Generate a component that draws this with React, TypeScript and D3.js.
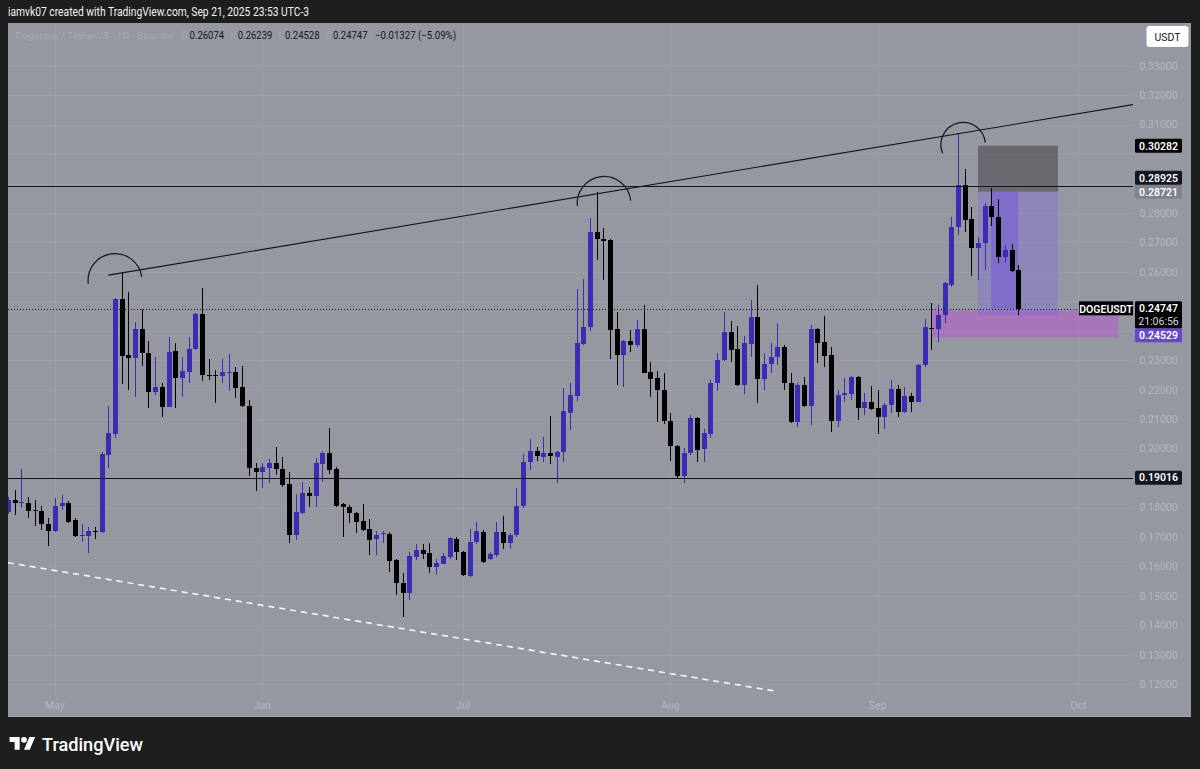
import React from 'react';
import * as d3 from 'd3';

// ---------- data ----------
const START = Date.UTC(2025, 3, 24); // first visible daily candle
const DAY = 86400000;

const opens = [
  0.1786, 0.1826, 0.1814, 0.1816, 0.1792, 0.1789, 0.1744, 0.1721, 0.1805, 0.1814,
  0.1758, 0.1703, 0.1704, 0.1721, 0.1718, 0.1979, 0.2050, 0.2507, 0.2317, 0.2307,
  0.2405, 0.2326, 0.2191, 0.2210, 0.2142, 0.2333, 0.2240, 0.2260, 0.2337, 0.2456,
  0.2251, 0.2251, 0.2247, 0.2256, 0.2260, 0.2208, 0.2146, 0.1933, 0.1922, 0.1933,
  0.1950, 0.1930, 0.1880, 0.1707, 0.1783, 0.1848, 0.1839, 0.1947, 0.1984, 0.1930,
  0.1812, 0.1803, 0.1782, 0.1755, 0.1726, 0.1692, 0.1710, 0.1709, 0.1622, 0.1545,
  0.1511, 0.1633, 0.1656, 0.1645, 0.1597, 0.1609, 0.1633, 0.1692, 0.1650, 0.1568,
  0.1682, 0.1718, 0.1626, 0.1639, 0.1718, 0.1679, 0.1707, 0.1805, 0.1954, 0.1991,
  0.1971, 0.1984, 0.1973, 0.1990, 0.2122, 0.2179, 0.2355, 0.2412, 0.2736, 0.2713,
  0.2708, 0.2405, 0.2318, 0.2365, 0.2352, 0.2406, 0.2259, 0.2239, 0.2199, 0.2095,
  0.2009, 0.1907, 0.1984, 0.2103, 0.1998, 0.2050, 0.2222, 0.2301, 0.2397, 0.2337,
  0.2216, 0.2355, 0.2446, 0.2235, 0.2287, 0.2310, 0.2346, 0.2224, 0.2091, 0.2216,
  0.2145, 0.2405, 0.2363, 0.2318, 0.2095, 0.2182, 0.2185, 0.2242, 0.2137, 0.2159,
  0.2137, 0.2106, 0.2148, 0.2202, 0.2125, 0.2179, 0.2159, 0.2284, 0.2411, 0.2405,
  0.2454, 0.2556, 0.2751, 0.2895, 0.2779, 0.2680, 0.2697, 0.2824, 0.2785, 0.2652,
  0.2674, 0.26074,
];
const highs = [
  0.1836, 0.1860, 0.1930, 0.1836, 0.1826, 0.1805, 0.1765, 0.1832, 0.1843, 0.1822,
  0.1764, 0.1744, 0.1733, 0.1734, 0.1989, 0.2145, 0.2510, 0.2598, 0.2533, 0.2430,
  0.2473, 0.2366, 0.2310, 0.2222, 0.2378, 0.2358, 0.2310, 0.2380, 0.2460, 0.2544,
  0.2303, 0.2267, 0.2303, 0.2321, 0.2278, 0.2281, 0.2165, 0.1950, 0.1950, 0.1964,
  0.2007, 0.1971, 0.1922, 0.1845, 0.1888, 0.1869, 0.1967, 0.1993, 0.2069, 0.1936,
  0.1815, 0.1808, 0.1786, 0.1812, 0.1760, 0.1721, 0.1721, 0.1718, 0.1625, 0.1577,
  0.1648, 0.1676, 0.1676, 0.1679, 0.1624, 0.1647, 0.1701, 0.1699, 0.1653, 0.1726,
  0.1752, 0.1724, 0.1650, 0.1752, 0.1771, 0.1713, 0.1865, 0.1981, 0.2032, 0.2006,
  0.2041, 0.2111, 0.1993, 0.2205, 0.2222, 0.2541, 0.2576, 0.2782, 0.2872, 0.2748,
  0.2710, 0.2465, 0.2368, 0.2403, 0.2437, 0.2488, 0.2295, 0.2265, 0.2256, 0.2122,
  0.2012, 0.2001, 0.2114, 0.2106, 0.2066, 0.2233, 0.2326, 0.2465, 0.2434, 0.2416,
  0.2382, 0.2505, 0.2556, 0.2326, 0.2359, 0.2426, 0.2352, 0.2256, 0.2224, 0.2244,
  0.2420, 0.2408, 0.2450, 0.2346, 0.2199, 0.2239, 0.2246, 0.2248, 0.2188, 0.2213,
  0.2199, 0.2154, 0.2233, 0.2216, 0.2210, 0.2188, 0.2287, 0.2439, 0.2494, 0.2488,
  0.2567, 0.2785, 0.3070, 0.2948, 0.2819, 0.2719, 0.2835, 0.2884, 0.2846, 0.2691,
  0.2695, 0.26239,
];
const lows = [
  0.1778, 0.1775, 0.1798, 0.1765, 0.1737, 0.1724, 0.1670, 0.1718, 0.1792, 0.1748,
  0.1699, 0.1684, 0.1645, 0.1693, 0.1714, 0.1933, 0.2035, 0.2219, 0.2199, 0.2174,
  0.2281, 0.2137, 0.2182, 0.2108, 0.2140, 0.2139, 0.2176, 0.2224, 0.2335, 0.2231,
  0.2233, 0.2156, 0.2224, 0.2197, 0.2171, 0.2140, 0.1907, 0.1856, 0.1865, 0.1884,
  0.1911, 0.1871, 0.1679, 0.1690, 0.1778, 0.1803, 0.1801, 0.1888, 0.1914, 0.1801,
  0.1699, 0.1747, 0.1715, 0.1721, 0.1639, 0.1639, 0.1679, 0.1582, 0.1503, 0.1428,
  0.1486, 0.1622, 0.1627, 0.1579, 0.1571, 0.1607, 0.1627, 0.1622, 0.1568, 0.1565,
  0.1676, 0.1611, 0.1622, 0.1633, 0.1659, 0.1659, 0.1701, 0.1798, 0.1929, 0.1957,
  0.1956, 0.1948, 0.1884, 0.1956, 0.2063, 0.2163, 0.2352, 0.2400, 0.2640, 0.2573,
  0.2303, 0.2216, 0.2208, 0.2329, 0.2344, 0.2256, 0.2174, 0.2091, 0.2084, 0.1959,
  0.1896, 0.1884, 0.1979, 0.1956, 0.1956, 0.2035, 0.2197, 0.2298, 0.2295, 0.2213,
  0.2185, 0.2312, 0.2156, 0.2199, 0.2256, 0.2284, 0.2199, 0.2088, 0.2074, 0.2140,
  0.2080, 0.2290, 0.2276, 0.2057, 0.2072, 0.2159, 0.2165, 0.2097, 0.2114, 0.2131,
  0.2050, 0.2066, 0.2122, 0.2108, 0.2120, 0.2125, 0.2158, 0.2278, 0.2335, 0.2363,
  0.2427, 0.2548, 0.2725, 0.2736, 0.2586, 0.2573, 0.2606, 0.2756, 0.2631, 0.2631,
  0.2601, 0.24528,
];
const closes = [
  0.1826, 0.1815, 0.1818, 0.1789, 0.1789, 0.1744, 0.1721, 0.1805, 0.1814, 0.1752,
  0.1704, 0.1706, 0.1720, 0.1718, 0.1982, 0.2054, 0.2507, 0.2314, 0.2307, 0.2405,
  0.2324, 0.2191, 0.2210, 0.2142, 0.2328, 0.2240, 0.2263, 0.2339, 0.2456, 0.2249,
  0.2247, 0.2248, 0.2260, 0.2260, 0.2206, 0.2146, 0.1933, 0.1922, 0.1937, 0.1950,
  0.1930, 0.1877, 0.1707, 0.1784, 0.1848, 0.1839, 0.1950, 0.1986, 0.1927, 0.1805,
  0.1801, 0.1782, 0.1752, 0.1724, 0.1690, 0.1707, 0.1713, 0.1619, 0.1543, 0.1511,
  0.1636, 0.1656, 0.1642, 0.1597, 0.1611, 0.1636, 0.1696, 0.1650, 0.1571, 0.1684,
  0.1721, 0.1616, 0.1642, 0.1718, 0.1679, 0.1707, 0.1805, 0.1954, 0.1991, 0.1974,
  0.1984, 0.1975, 0.1990, 0.2129, 0.2182, 0.2360, 0.2414, 0.2736, 0.2711, 0.2706,
  0.2403, 0.2318, 0.2365, 0.2352, 0.2406, 0.2258, 0.2236, 0.2199, 0.2095, 0.2009,
  0.1907, 0.1986, 0.2103, 0.1995, 0.2052, 0.2224, 0.2301, 0.2397, 0.2335, 0.2216,
  0.2358, 0.2448, 0.2235, 0.2287, 0.2310, 0.2345, 0.2224, 0.2091, 0.2216, 0.2145,
  0.2405, 0.2360, 0.2314, 0.2095, 0.2182, 0.2188, 0.2244, 0.2137, 0.2159, 0.2133,
  0.2106, 0.2148, 0.2202, 0.2125, 0.2179, 0.2159, 0.2284, 0.2414, 0.2405, 0.2454,
  0.2561, 0.2753, 0.2895, 0.2776, 0.2680, 0.2697, 0.2824, 0.2785, 0.2652, 0.2674,
  0.2604, 0.24747,
];

const priceTicks = [0.12, 0.13, 0.14, 0.15, 0.16, 0.17, 0.18, 0.19, 0.2, 0.21, 0.22, 0.23, 0.24, 0.25, 0.26, 0.27, 0.28, 0.29, 0.3, 0.31, 0.32, 0.33];
const monthStarts = ['2025-05-01', '2025-06-01', '2025-07-01', '2025-08-01', '2025-09-01', '2025-10-01'];
const monthLabels = ['May', 'Jun', 'Jul', 'Aug', 'Sep', 'Oct'];

// drawings: [day offset from START, price]
const trendLine = [[15, 0.2589], [168.16, 0.3168]];
const horizontalLevels = [0.28925, 0.19016];
const dashedLine = [[0, 0.1613], [114.65, 0.1177]];
const arcs = [
  [[12.0, 0.2559], [16.14, 0.2662], [19.98, 0.2583]],
  [[85.1, 0.2824], [88.5, 0.2923], [93.07, 0.2842]],
  [[139.7, 0.3003], [142.4, 0.3107], [146.07, 0.3039]],
];
const shortPos = { start: 145, end: 156.95, filledFrom: 147, filledTo: 151, entry: 0.28721, stop: 0.30282, target: 0.24529 };
const zone = { start: 138.06, end: 165.96, top: 0.2468, bottom: 0.2377 };
const lastPrice = 0.24747;
const countdown = '21:06:56';
const legendValues = { o: '0.26074', h: '0.26239', l: '0.24528', c: '0.24747', chg: '\u22120.01327 (\u22125.09%)' };

// ---------- layout ----------
const FONT = "Roboto, 'Noto Sans', 'DejaVu Sans', sans-serif";
const PANE = { left: 8, top: 23, right: 1133, bottom: 694 };
const FRAME = { left: 8, top: 23, right: 1191, bottom: 717 };
const BG = '#9598a1';
const BULL = '#3b2cb4';
const BEAR = '#000000';

function circle3(a: number[], b: number[], c: number[]) {
  const [x1, y1] = a, [x2, y2] = b, [x3, y3] = c;
  const d = 2 * (x1 * (y2 - y3) + x2 * (y3 - y1) + x3 * (y1 - y2));
  const ux = ((x1 * x1 + y1 * y1) * (y2 - y3) + (x2 * x2 + y2 * y2) * (y3 - y1) + (x3 * x3 + y3 * y3) * (y1 - y2)) / d;
  const uy = ((x1 * x1 + y1 * y1) * (x3 - x2) + (x2 * x2 + y2 * y2) * (x1 - x3) + (x3 * x3 + y3 * y3) * (x2 - x1)) / d;
  return { cx: ux, cy: uy, r: Math.hypot(x1 - ux, y1 - uy) };
}

export default function App() {
  const x = d3.scaleUtc()
    .domain([new Date(START), new Date(START + 151 * DAY)])
    .range([8, 8 + 151 * 6.69]);
  const y = d3.scaleLinear().domain([0.12, 0.33]).range([684.3, 65.7]);
  const X = (d: number) => x(new Date(START + d * DAY));

  const candles = opens.map((o, i) => ({ i, o, h: highs[i], l: lows[i], c: closes[i] }));

  const arcPaths = arcs.map((pts) => {
    const p = pts.map(([d, v]) => [X(d), y(v)]);
    const { cx, cy, r } = circle3(p[0], p[1], p[2]);
    const side = (q: number[]) => (p[2][0] - p[0][0]) * (q[1] - p[0][1]) - (p[2][1] - p[0][1]) * (q[0] - p[0][0]);
    const large = Math.sign(side([cx, cy])) === Math.sign(side(p[1])) ? 1 : 0;
    const sweep = side(p[1]) < 0 ? 1 : 0;
    return `M${p[0][0]},${p[0][1]} A${r},${r} 0 ${large} ${sweep} ${p[2][0]},${p[2][1]}`;
  });

  // price-axis labels with simple collision handling
  const LH = 14;
  const placed: { top: number; bottom: number }[] = [];
  const curTop = y(lastPrice) - 7.5;
  placed.push({ top: curTop, bottom: curTop + 27 });
  const axisLabels = [
    { v: shortPos.target, bg: '#6746d0', fg: '#ffffff' },
    { v: shortPos.entry, bg: '#80838c', fg: '#ffffff' },
    { v: shortPos.stop, bg: '#000000', fg: '#ffffff' },
    { v: horizontalLevels[0], bg: '#131722', fg: '#ffffff' },
    { v: horizontalLevels[1], bg: '#131722', fg: '#ffffff' },
  ].map((lb) => {
    const cy = y(lb.v);
    let top = cy - LH / 2;
    for (const p of placed) {
      if (top < p.bottom && top + LH > p.top) {
        if (cy < (p.top + p.bottom) / 2) top = p.top - LH;
        else top = p.bottom;
      }
    }
    placed.push({ top, bottom: top + LH });
    return { ...lb, top };
  });

  // tick labels that would sit under a price label are hidden, as TradingView does
  const visibleTicks = priceTicks.filter((t) => {
    const ty = y(t);
    return !placed.some((p) => ty - 4 < p.bottom && ty + 4 > p.top);
  });

  const LBL_X = 1135, LBL_W = 47, LBL_CX = 1158.5;
  const snap = (v: number) => Math.round(v) + 0.5;

  const legendParts = [
    { k: 'O', kx: 181.6, kw: 5.6, v: legendValues.o, vx: 189.6 },
    { k: 'H', kx: 230.2, kw: 5.4, v: legendValues.h, vx: 237.8 },
    { k: 'L', kx: 278.8, kw: 4.2, v: legendValues.l, vx: 285 },
    { k: 'C', kx: 325.8, kw: 5.2, v: legendValues.c, vx: 333 },
  ];

  return (
    <svg width={1200} height={769} style={{ position: 'absolute', left: 0, top: 0, display: 'block' }} fontFamily={FONT}>
      <defs>
        <clipPath id="pane">
          <rect x={PANE.left} y={PANE.top} width={PANE.right - PANE.left} height={PANE.bottom - PANE.top} />
        </clipPath>
      </defs>
      <rect x={0} y={0} width={1200} height={769} fill="#1e1e1e" />
      <rect x={FRAME.left} y={FRAME.top} width={FRAME.right - FRAME.left} height={FRAME.bottom - FRAME.top} fill={BG} />
      <line x1={FRAME.left} x2={FRAME.right} y1={FRAME.bottom - 0.5} y2={FRAME.bottom - 0.5} stroke="#a7a9b0" />

      {/* grid */}
      <g clipPath="url(#pane)">
        {priceTicks.map((t) => (
          <line key={'hg' + t} x1={PANE.left} x2={PANE.right} y1={snap(y(t))} y2={snap(y(t))} stroke="#9b9ea7" strokeWidth={1} />
        ))}
        {monthStarts.map((m) => {
          const xx = snap(x(new Date(m + 'T00:00:00Z')));
          return <line key={'vg' + m} x1={xx} x2={xx} y1={PANE.top} y2={PANE.bottom} stroke="#9b9ea7" strokeWidth={1} />;
        })}
      </g>

      {/* zones and position tool */}
      <g clipPath="url(#pane)">
        <rect x={X(zone.start)} y={y(zone.top)} width={X(zone.end) - X(zone.start)} height={y(zone.bottom) - y(zone.top)} fill="#c040e0" fillOpacity={0.4} />
        <rect x={X(shortPos.start)} y={y(shortPos.stop)} width={X(shortPos.end) - X(shortPos.start)} height={y(shortPos.entry) - y(shortPos.stop)} fill="#000" fillOpacity={0.3} />
        <rect x={X(shortPos.start)} y={y(shortPos.entry)} width={X(shortPos.end) - X(shortPos.start)} height={y(shortPos.target) - y(shortPos.entry)} fill="#7b5cf0" fillOpacity={0.3} />
        <rect x={X(shortPos.filledFrom - 0.05)} y={y(shortPos.entry)} width={X(shortPos.filledTo) - X(shortPos.filledFrom - 0.05)} height={y(lastPrice) - y(shortPos.entry)} fill="#6a3de8" fillOpacity={0.35} />
      </g>

      {/* candles */}
      <g clipPath="url(#pane)">
        {candles.map((k) => {
          const cx = Math.round(X(k.i));
          const bull = k.c >= k.o;
          const col = bull ? BULL : BEAR;
          const yt = Math.round(y(Math.max(k.o, k.c)));
          const yb = Math.round(y(Math.min(k.o, k.c)));
          const yh = Math.round(y(k.h));
          const yl = Math.round(y(k.l));
          return (
            <g key={k.i}>
              <rect x={cx} y={yh} width={1} height={Math.max(1, yl - yh)} fill={col} />
              <rect x={cx - 2} y={yt} width={5} height={Math.max(1, yb - yt)} fill={col} />
            </g>
          );
        })}
      </g>

      {/* drawings */}
      <g clipPath="url(#pane)">
        <line x1={X(trendLine[0][0])} y1={y(trendLine[0][1])} x2={X(trendLine[1][0])} y2={y(trendLine[1][1])} stroke="#15161c" strokeWidth={1.1} />
        {horizontalLevels.map((lv) => (
          <line key={'lv' + lv} x1={PANE.left} x2={PANE.right} y1={snap(y(lv))} y2={snap(y(lv))} stroke="#15161c" strokeWidth={1} />
        ))}
        <line x1={X(dashedLine[0][0])} y1={y(dashedLine[0][1])} x2={X(dashedLine[1][0])} y2={y(dashedLine[1][1])} stroke="#ffffff" strokeWidth={1.5} strokeDasharray="6 5" />
        {arcPaths.map((d, i) => (
          <path key={'arc' + i} d={d} fill="none" stroke="#15161c" strokeWidth={1.2} />
        ))}
        <line x1={PANE.left} x2={1080} y1={snap(y(lastPrice))} y2={snap(y(lastPrice))} stroke="#15161c" strokeWidth={1} strokeDasharray="1 2" />
      </g>

      {/* symbol label on pane edge */}
      <rect x={1079} y={y(lastPrice) - 7.5} width={54} height={14} fill="#000" />
      <text x={1106} y={y(lastPrice) + 3.8} textAnchor="middle" fill="#fff" fontSize={10.5} fontWeight={600}>DOGEUSDT</text>

      {/* price axis */}
      {visibleTicks.map((t) => (
        <text key={'pt' + t} x={LBL_CX} y={y(t) + 3.8} textAnchor="middle" fill="#b3b6be" fontSize={10.5}>{t.toFixed(5)}</text>
      ))}
      {axisLabels.map((lb) => (
        <g key={'al' + lb.v}>
          <rect x={LBL_X} y={lb.top} width={LBL_W} height={LH} rx={1.5} fill={lb.bg} />
          <text x={LBL_CX} y={lb.top + LH / 2 + 3.8} textAnchor="middle" fill={lb.fg} fontSize={10.5} fontWeight={600}>{lb.v.toFixed(5)}</text>
        </g>
      ))}
      <rect x={LBL_X} y={curTop} width={LBL_W} height={27} rx={1.5} fill="#000" />
      <text x={LBL_CX} y={curTop + 11} textAnchor="middle" fill="#fff" fontSize={10.5} fontWeight={600}>{lastPrice.toFixed(5)}</text>
      <text x={LBL_CX} y={curTop + 23.5} textAnchor="middle" fill="#d6d8de" fontSize={10.5}>{countdown}</text>

      {/* currency button */}
      <rect x={1146.5} y={26} width={42} height={21} rx={3} fill="#ffffff" />
      <text x={1167.5} y={40.5} textAnchor="middle" fill="#131722" fontSize={10.5}>USDT</text>

      {/* time axis */}
      {monthStarts.map((m, i) => (
        <text key={'ml' + m} x={x(new Date(m + 'T00:00:00Z'))} y={709} textAnchor="middle" fill="#b3b6be" fontSize={10.5}>{monthLabels[i]}</text>
      ))}

      {/* header */}
      <text x={8} y={16} fill="#f2f2f2" fontSize={12} textLength={301} lengthAdjust="spacingAndGlyphs">iamvk07 created with TradingView.com, Sep 21, 2025 23:53 UTC-3</text>

      {/* legend */}
      <g fontSize={11}>
        <text x={15.3} y={39} fill="#a6a9b2" fontSize={9.3} textLength={158} lengthAdjust="spacingAndGlyphs">Dogecoin / TetherUS · 1D · Binance</text>
        {legendParts.map((p) => (
          <g key={p.k}>
            <text x={p.kx} y={39} fill="#a6a9b2" fontSize={10} textLength={p.kw} lengthAdjust="spacingAndGlyphs">{p.k}</text>
            <text x={p.vx} y={39} fill="#131722" textLength={34.5} lengthAdjust="spacingAndGlyphs">{p.v}</text>
          </g>
        ))}
        <text x={375} y={39} fill="#131722" textLength={81} lengthAdjust="spacingAndGlyphs">{legendValues.chg}</text>
      </g>

      {/* TradingView logo */}
      <g transform="translate(9.6,734) scale(0.72)" fill="#ffffff">
        <path d="M14 22H7V11H0V4h14v18zM28 22h-8l7.5-18h8L28 22z" />
        <circle cx={20} cy={8} r={4} />
      </g>
      <text x={42} y={751} fill="#ffffff" fontSize={18} fontWeight={500} textLength={101} lengthAdjust="spacingAndGlyphs">TradingView</text>
    </svg>
  );
}
